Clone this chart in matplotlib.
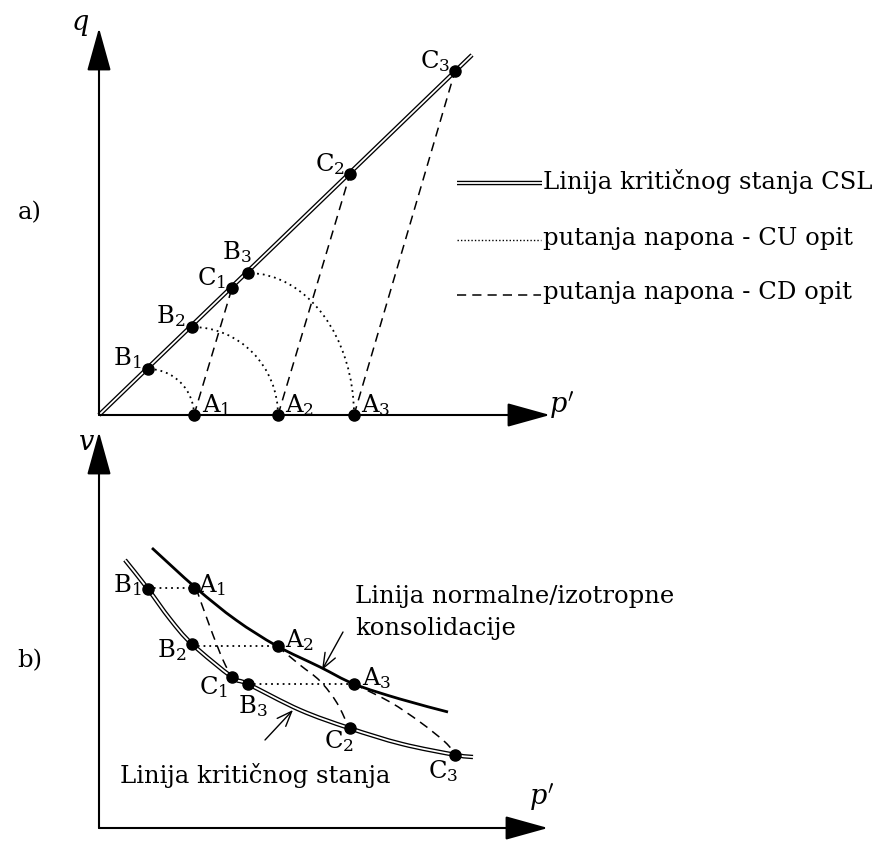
import matplotlib.pyplot as plt
from matplotlib.patches import Arc, PathPatch
from matplotlib.path import Path

plt.rcParams['font.family'] = ['DejaVu Serif']
plt.rcParams['mathtext.fontset'] = 'dejavuserif'

# a) q - p' ravan (1 jedinica = 100 px skice)
p_A = [0.95, 1.79, 2.55]
p_B = [0.49, 0.93, 1.49]
q_B = [0.46, 0.88, 1.42]
p_C = [1.33, 2.51, 3.56]
q_C = [1.27, 2.41, 3.44]
csl_p = [0.0, 3.73]
csl_q = [0.0, 3.60]

# b) v - p' ravan
v_A = [2.40, 1.82, 1.44]
v_B = [2.39, 1.84, 1.44]
v_C = [1.51, 1.00, 0.73]
ncl_p = [0.53, 0.97, 1.37, 1.78, 2.21, 2.55, 3.01, 3.49]
ncl_v = [2.80, 2.40, 2.08, 1.82, 1.61, 1.44, 1.29, 1.16]
cslb_p = [0.26, 0.49, 0.71, 0.93, 1.33, 1.49, 2.01, 2.50, 3.03, 3.57, 3.74]
cslb_v = [2.68, 2.39, 2.09, 1.84, 1.51, 1.44, 1.18, 1.00, 0.84, 0.73, 0.71]
# CD putanje u v-p' (A -> C)
cd_p = [[0.97, 1.11, 1.24, 1.33],
        [1.78, 2.01, 2.21, 2.38, 2.50],
        [2.55, 2.91, 3.21, 3.46, 3.57]]
cd_v = [[2.40, 2.01, 1.68, 1.51],
        [1.82, 1.63, 1.47, 1.25, 1.00],
        [1.44, 1.26, 1.06, 0.86, 0.73]]

idx = ['1', '2', '3']
FS = 17.5
DOT = (0, (1, 2.2))
DASH = (0, (6, 4))

fig = plt.figure(figsize=(8.72, 8.61), dpi=100)
ax_a = fig.add_axes([0, 0, 1, 1], label='a')
ax_a.set_xlim(-0.99, 7.73)
ax_a.set_ylim(-4.46, 4.15)
ax_b = fig.add_axes([0, 0, 1, 1], label='b')
ax_b.set_xlim(-0.99, 7.73)
ax_b.set_ylim(-0.33, 8.28)
ax_px = fig.add_axes([0, 0, 1, 1], label='px')
ax_px.set_xlim(0, 872)
ax_px.set_ylim(861, 0)
for ax in (ax_a, ax_b, ax_px):
    ax.axis('off')
    ax.patch.set_alpha(0)


def smooth(xs, ys):
    # glatka kriva kroz ocitane tacke (Catmull-Rom -> Bezier)
    pts = list(zip(xs, ys))
    n = len(pts)
    verts = [pts[0]]
    codes = [Path.MOVETO]
    for i in range(n - 1):
        p0 = pts[max(i - 1, 0)]
        p1 = pts[i]
        p2 = pts[i + 1]
        p3 = pts[min(i + 2, n - 1)]
        c1 = (p1[0] + (p2[0] - p0[0]) / 6, p1[1] + (p2[1] - p0[1]) / 6)
        c2 = (p2[0] - (p3[0] - p1[0]) / 6, p2[1] - (p3[1] - p1[1]) / 6)
        verts += [c1, c2, p2]
        codes += [Path.CURVE4] * 3
    return Path(verts, codes)


def curve(ax, xs, ys, **kw):
    ax.add_patch(PathPatch(smooth(xs, ys), fill=False, capstyle='butt', **kw))


def double_line(ax, x, y):
    ax.plot(x, y, color='black', lw=3.2, solid_capstyle='butt', zorder=3)
    ax.plot(x, y, color='white', lw=1.3, solid_capstyle='butt', zorder=3)


def axis_arrow(x0, y0, x1, y1):
    ax_px.annotate('', xy=(x1, y1), xytext=(x0, y0),
                   arrowprops=dict(arrowstyle='-|>,head_length=2.7,head_width=0.75',
                                   mutation_scale=10, lw=1.5, color='black',
                                   shrinkA=0, shrinkB=0))


# ---------- a) ----------
double_line(ax_a, csl_p, csl_q)
for i in range(3):
    ax_a.add_patch(Arc((p_B[i], 0), 2 * (p_A[i] - p_B[i]), 2 * q_B[i],
                       theta1=0, theta2=90, lw=1.3, linestyle=DOT, color='black'))
    ax_a.plot([p_A[i], p_C[i]], [0, q_C[i]], color='black', lw=1.1, linestyle=DASH)
ax_a.plot(p_A, [0, 0, 0], 'o', color='black', ms=8, zorder=5)
ax_a.plot(p_B, q_B, 'o', color='black', ms=8, zorder=5)
ax_a.plot(p_C, q_C, 'o', color='black', ms=8, zorder=5)
for i in range(3):
    ax_a.annotate(r'$\mathrm{A}_{%s}$' % idx[i], (p_A[i], 0), xytext=(22, 10),
                  textcoords='offset pixels', ha='center', va='center', fontsize=FS)
    off_b = (-11, 21) if i == 2 else (-21, 11)
    ax_a.annotate(r'$\mathrm{B}_{%s}$' % idx[i], (p_B[i], q_B[i]), xytext=off_b,
                  textcoords='offset pixels', ha='center', va='center', fontsize=FS)
    ax_a.annotate(r'$\mathrm{C}_{%s}$' % idx[i], (p_C[i], q_C[i]), xytext=(-20, 10),
                  textcoords='offset pixels', ha='center', va='center', fontsize=FS)

axis_arrow(99, 415, 99, 28)
axis_arrow(99, 415, 550, 415)
ax_px.text(80, 24, r'$q$', fontsize=FS + 2, ha='center', va='center')
ax_px.text(562, 405, r"$p'$", fontsize=FS + 2, ha='center', va='center')
ax_px.text(30, 213, 'a)', fontsize=FS, ha='center', va='center')

# legenda
double_line(ax_px, [457, 542], [183, 183])
ax_px.plot([457, 541], [240, 240], color='black', lw=1.0, linestyle=(0, (1, 1.5)))
ax_px.plot([457, 541], [295, 295], color='black', lw=1.1, linestyle=DASH)
ax_px.text(543, 181, 'Linija kritičnog stanja CSL', fontsize=FS, va='center')
ax_px.text(543, 238, 'putanja napona - CU opit', fontsize=FS, va='center')
ax_px.text(543, 293, 'putanja napona - CD opit', fontsize=FS, va='center')

# ---------- b) ----------
curve(ax_b, ncl_p, ncl_v, color='black', lw=2.0, zorder=3)
curve(ax_b, cslb_p, cslb_v, color='black', lw=3.2, zorder=3)
curve(ax_b, cslb_p, cslb_v, color='white', lw=1.3, zorder=3)
for i in range(3):
    ax_b.plot([p_B[i], p_A[i]], [v_A[i], v_A[i]], color='black', lw=1.3, linestyle=DOT)
    curve(ax_b, cd_p[i], cd_v[i], color='black', lw=1.1, linestyle=DASH)
ax_b.plot(p_A, v_A, 'o', color='black', ms=8, zorder=5)
ax_b.plot(p_B, v_B, 'o', color='black', ms=8, zorder=5)
ax_b.plot(p_C, v_C, 'o', color='black', ms=8, zorder=5)

offs_A = [(18, 3), (22, 6), (23, 6)]
offs_B = [(-21, 4), (-20, -6), (5, -22)]
offs_C = [(-18, -10), (-11, -13), (-12, -16)]
for i in range(3):
    ax_b.annotate(r'$\mathrm{A}_{%s}$' % idx[i], (p_A[i], v_A[i]), xytext=offs_A[i],
                  textcoords='offset pixels', ha='center', va='center', fontsize=FS)
    ax_b.annotate(r'$\mathrm{B}_{%s}$' % idx[i], (p_B[i], v_B[i]), xytext=offs_B[i],
                  textcoords='offset pixels', ha='center', va='center', fontsize=FS)
    ax_b.annotate(r'$\mathrm{C}_{%s}$' % idx[i], (p_C[i], v_C[i]), xytext=offs_C[i],
                  textcoords='offset pixels', ha='center', va='center', fontsize=FS)

axis_arrow(99, 828, 99, 432)
axis_arrow(99, 828, 548, 828)
ax_px.text(87, 442, r'$v$', fontsize=FS + 2, ha='center', va='center')
ax_px.text(542, 797, r"$p'$", fontsize=FS + 2, ha='center', va='center')
ax_px.text(30, 661, 'b)', fontsize=FS, ha='center', va='center')

for (x0, y0, x1, y1) in [(265, 740, 293, 710), (343, 632, 322, 670)]:
    ax_px.annotate('', xy=(x1, y1), xytext=(x0, y0),
                   arrowprops=dict(arrowstyle='->,head_length=0.9,head_width=0.35',
                                   mutation_scale=12, lw=1.0, color='black',
                                   shrinkA=0, shrinkB=0))
ax_px.text(355, 596, 'Linija normalne/izotropne', fontsize=FS, va='center')
ax_px.text(355, 629, 'konsolidacije', fontsize=FS, va='center')
ax_px.text(120, 775, 'Linija kritičnog stanja', fontsize=FS, va='center')

fig.savefig('out.png', dpi=100)
